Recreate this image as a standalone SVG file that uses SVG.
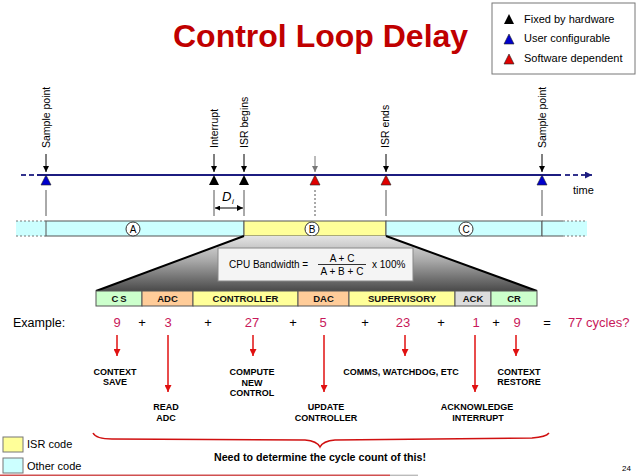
<svg xmlns="http://www.w3.org/2000/svg" width="640" height="476" viewBox="0 0 640 476">
<defs>
<style>
text{font-family:"Liberation Sans",Arial,sans-serif;fill:#000;}
.title{font-size:32px;font-weight:bold;fill:#c00000;}
.lg{font-size:11px;}
.ev{font-size:10.5px;}
.seg{font-size:9.5px;font-weight:bold;fill:#111;text-anchor:middle;}
.num{font-size:13px;fill:#c8185a;text-anchor:middle;}
.numl{font-size:13px;fill:#c8185a;text-anchor:start;}
.op{font-size:13px;text-anchor:middle;}
.ann{font-size:9px;font-weight:bold;text-anchor:middle;}
.vl{stroke:#555;stroke-width:1;fill:none;}
.ra{stroke:#e01010;stroke-width:1.5;fill:none;marker-end:url(#ra);}
.da{stroke:#000;stroke-width:1;fill:none;marker-end:url(#ka);}
.cyan{fill:#ccffff;stroke:#555;stroke-width:1;}
.yel{fill:#ffff99;stroke:#555;stroke-width:1;}
.grn{fill:#ccffcc;stroke:#555;stroke-width:1;}
.org{fill:#ffcc99;stroke:#555;stroke-width:1;}
.gry{fill:#dddddd;stroke:#555;stroke-width:1;}
.circ{fill:#fff;stroke:#333;stroke-width:1;}
.cl{font-size:10px;text-anchor:middle;}
.tk{stroke:#222;stroke-width:0.6;}
</style>
<marker id="ka" viewBox="0 0 10 10" refX="10" refY="5" markerWidth="6" markerHeight="6" orient="auto" markerUnits="userSpaceOnUse">
<path d="M0,0 L10,5 L0,10 z" fill="#000"/>
</marker>
<marker id="ga" viewBox="0 0 10 10" refX="10" refY="5" markerWidth="6" markerHeight="6" orient="auto" markerUnits="userSpaceOnUse">
<path d="M0,0 L10,5 L0,10 z" fill="#777"/>
</marker>
<marker id="ra" viewBox="0 0 10 10" refX="10" refY="5" markerWidth="7" markerHeight="7" orient="auto" markerUnits="userSpaceOnUse">
<path d="M0,0 L10,5 L0,10 z" fill="#e01010"/>
</marker>
<marker id="na" viewBox="0 0 10 10" refX="10" refY="5" markerWidth="9" markerHeight="7" orient="auto" markerUnits="userSpaceOnUse">
<path d="M0,0 L10,5 L0,10 z" fill="#1c1c80"/>
</marker>
<marker id="dl" viewBox="0 0 10 10" refX="0" refY="5" markerWidth="6" markerHeight="5" orient="auto" markerUnits="userSpaceOnUse">
<path d="M10,0 L0,5 L10,10 z" fill="#000"/>
</marker>
<linearGradient id="trap" x1="0" y1="0" x2="0" y2="1">
<stop offset="0" stop-color="#e4e4e4"/>
<stop offset="0.45" stop-color="#a8a8a8"/>
<stop offset="1" stop-color="#4a4a4a"/>
</linearGradient>
</defs>

<g id="title">
<text class="title" x="173" y="47">Control Loop Delay</text>
</g>

<g id="legend">
<rect x="492" y="3" width="143" height="71" fill="#fff" stroke="#777" stroke-width="1"/>
<polygon points="509,14 504,24 514,24" fill="#000"/>
<text class="lg" x="524" y="23">Fixed by hardware</text>
<polygon points="509,34 504,44 514,44" fill="#0000cc" class="tk"/>
<text class="lg" x="524" y="42">User configurable</text>
<polygon points="509,54 504,64 514,64" fill="#e00000" class="tk"/>
<text class="lg" x="524" y="62">Software dependent</text>
</g>

<g id="timeline">
<line x1="21" y1="175" x2="26" y2="175" stroke="#1c1c80" stroke-width="1.8"/>
<line x1="29" y1="175" x2="34" y2="175" stroke="#1c1c80" stroke-width="1.8"/>
<line x1="37" y1="175" x2="561" y2="175" stroke="#1c1c80" stroke-width="1.8"/>
<line x1="565" y1="175" x2="570" y2="175" stroke="#1c1c80" stroke-width="1.8"/>
<line x1="573" y1="175" x2="578" y2="175" stroke="#1c1c80" stroke-width="1.8"/>
<line x1="581" y1="175" x2="592" y2="175" stroke="#1c1c80" stroke-width="1.8" marker-end="url(#na)"/>
<text class="lg" x="573" y="194">time</text>
</g>

<g id="ev-sample1">
<text class="ev" transform="translate(50,148) rotate(-90)">Sample point</text>
<polygon points="46,175 41,185 51,185" fill="#0000cc" class="tk"/>
</g>
<g id="ev-interrupt">
<text class="ev" transform="translate(218,148) rotate(-90)">Interrupt</text>
<polygon points="214,175 209,185 219,185" fill="#000"/>
</g>
<g id="ev-isrbegins">
<text class="ev" transform="translate(248,148) rotate(-90)">ISR begins</text>
<polygon points="244,175 239,185 249,185" fill="#000"/>
</g>
<g id="ev-mid">
<polygon points="315,175 310,185 320,185" fill="#e00000" class="tk"/>
</g>
<g id="ev-isrends">
<text class="ev" transform="translate(389,148) rotate(-90)">ISR ends</text>
<polygon points="386,175 381,185 391,185" fill="#e00000" class="tk"/>
</g>
<g id="ev-sample2">
<text class="ev" transform="translate(546,148) rotate(-90)">Sample point</text>
<polygon points="542,175 537,185 547,185" fill="#0000cc" class="tk"/>
</g>

<g id="di">
<text x="222" y="201" font-family="Liberation Serif,serif" font-style="italic" font-size="13">D</text>
<text x="232" y="204" font-family="Liberation Serif,serif" font-style="italic" font-size="8">i</text>
</g>

<g id="bar">
<rect x="16" y="221" width="30" height="15" fill="#ccffff"/>
<line x1="16" y1="221" x2="46" y2="221" stroke="#777" stroke-dasharray="2,2"/>
<line x1="16" y1="236" x2="46" y2="236" stroke="#777" stroke-dasharray="2,2"/>
<rect class="cyan" x="46" y="221" width="198" height="15"/>
<rect class="yel" x="244" y="221" width="142" height="15"/>
<rect class="cyan" x="386" y="221" width="156" height="15"/>
<rect x="542" y="221" width="45" height="15" fill="#ccffff"/>
<line x1="542" y1="221" x2="542" y2="236" stroke="#555"/>
<line x1="542" y1="221" x2="563" y2="221" stroke="#555"/>
<line x1="542" y1="236" x2="563" y2="236" stroke="#555"/>
<line x1="563" y1="221" x2="587" y2="221" stroke="#777" stroke-dasharray="2,2"/>
<line x1="563" y1="236" x2="587" y2="236" stroke="#777" stroke-dasharray="2,2"/>
<circle class="circ" cx="133" cy="229" r="7"/>
<text class="cl" x="133" y="232.5">A</text>
<circle class="circ" cx="312" cy="229" r="7"/>
<text class="cl" x="312" y="232.5">B</text>
<circle class="circ" cx="466" cy="229" r="7"/>
<text class="cl" x="466" y="232.5">C</text>
</g>

<g id="zoom">
<path d="M244,236 L386,236 L537,291 L96,291 Z" fill="url(#trap)"/>
<line x1="244" y1="236" x2="96" y2="291" stroke="#000" stroke-width="2"/>
<line x1="386" y1="236" x2="537" y2="291" stroke="#000" stroke-width="2"/>
</g>

<g id="cpu-box">
<rect x="218" y="248" width="195" height="33" fill="#f4f4f4" stroke="#888" stroke-width="1"/>
<text x="229" y="268" font-size="10">CPU Bandwidth =</text>
<text x="342" y="261.5" font-size="10" text-anchor="middle">A + C</text>
<line x1="318" y1="264.5" x2="366" y2="264.5" stroke="#000" stroke-width="0.8"/>
<text x="342" y="275" font-size="10" text-anchor="middle">A + B + C</text>
<text x="372" y="268" font-size="10">x 100%</text>
</g>

<g id="segments">
<rect class="grn" x="96" y="291" width="46" height="15"/>
<text class="seg" x="120" y="302" letter-spacing="2">CS</text>
<rect class="org" x="142" y="291" width="51" height="15"/>
<text class="seg" x="167.5" y="302">ADC</text>
<rect class="yel" x="193" y="291" width="105" height="15"/>
<text class="seg" x="245.5" y="302">CONTROLLER</text>
<rect class="org" x="298" y="291" width="51" height="15"/>
<text class="seg" x="323.5" y="302">DAC</text>
<rect class="yel" x="349" y="291" width="106" height="15"/>
<text class="seg" x="402" y="302">SUPERVISORY</text>
<rect class="gry" x="455" y="291" width="36" height="15"/>
<text class="seg" x="473" y="302">ACK</text>
<rect class="grn" x="491" y="291" width="46" height="15"/>
<text class="seg" x="514" y="302">CR</text>
</g>

<g id="example">
<text x="13" y="327" font-size="12.5">Example:</text>
<text class="num" x="117" y="327">9</text>
<text class="op" x="142" y="327">+</text>
<text class="num" x="168" y="327">3</text>
<text class="op" x="208" y="327">+</text>
<text class="num" x="252" y="327">27</text>
<text class="op" x="293" y="327">+</text>
<text class="num" x="323" y="327">5</text>
<text class="op" x="365" y="327">+</text>
<text class="num" x="403" y="327">23</text>
<text class="op" x="441" y="327">+</text>
<text class="num" x="476" y="327">1</text>
<text class="op" x="496" y="327">+</text>
<text class="num" x="517" y="327">9</text>
<text class="op" x="547" y="327">=</text>
<text class="numl" x="568" y="327">77 cycles?</text>
</g>

<g id="annotations">
<text class="ann" x="115" y="375">CONTEXT</text>
<text class="ann" x="115" y="385">SAVE</text>
<text class="ann" x="166" y="410">READ</text>
<text class="ann" x="166" y="421">ADC</text>
<text class="ann" x="252" y="375">COMPUTE</text>
<text class="ann" x="252" y="385.5">NEW</text>
<text class="ann" x="252" y="396">CONTROL</text>
<text class="ann" x="326" y="410">UPDATE</text>
<text class="ann" x="326" y="421">CONTROLLER</text>
<text class="ann" x="401" y="375">COMMS, WATCHDOG, ETC</text>
<text class="ann" x="477" y="410">ACKNOWLEDGE</text>
<text class="ann" x="478" y="421">INTERRUPT</text>
<text class="ann" x="519" y="375">CONTEXT</text>
<text class="ann" x="519" y="385">RESTORE</text>
</g>

<g id="connectors">
<line class="da" x1="46" y1="154" x2="46" y2="172"/>
<line class="da" x1="214" y1="154" x2="214" y2="172"/>
<line class="da" x1="244" y1="154" x2="244" y2="172"/>
<line x1="315" y1="156" x2="315" y2="172" stroke="#777" stroke-width="1" marker-end="url(#ga)"/>
<line class="da" x1="386" y1="154" x2="386" y2="172"/>
<line class="da" x1="542" y1="154" x2="542" y2="172"/>
<line class="vl" x1="46" y1="190" x2="46" y2="216"/>
<line class="vl" x1="214" y1="190" x2="214" y2="216"/>
<line class="vl" x1="244" y1="190" x2="244" y2="216"/>
<line class="vl" x1="315" y1="190" x2="315" y2="216" stroke-dasharray="2,2"/>
<line class="vl" x1="386" y1="190" x2="386" y2="216"/>
<line class="vl" x1="542" y1="190" x2="542" y2="216"/>
<line x1="215" y1="208" x2="243" y2="208" stroke="#000" stroke-width="1" marker-start="url(#dl)" marker-end="url(#ka)"/>
<line class="ra" x1="117" y1="335" x2="117" y2="356"/>
<line class="ra" x1="168" y1="335" x2="168" y2="392"/>
<line class="ra" x1="253" y1="335" x2="253" y2="356"/>
<line class="ra" x1="324" y1="335" x2="324" y2="392"/>
<line class="ra" x1="405" y1="335" x2="405" y2="356"/>
<line class="ra" x1="475" y1="335" x2="475" y2="392"/>
<line class="ra" x1="516" y1="335" x2="516" y2="356"/>
</g>

<g id="brace">
<path d="M93,433 Q96,439 112,439 L305,440 Q317,441 320,447 Q323,441 335,440 L532,438 Q546,437 549,433" fill="none" stroke="#d01010" stroke-width="1.5"/>
<text x="320" y="461" font-size="11" font-weight="bold" text-anchor="middle" textLength="212" lengthAdjust="spacingAndGlyphs">Need to determine the cycle count of this!</text>
</g>

<g id="code-legend">
<rect x="3" y="437" width="20" height="15" fill="#ffff99" stroke="#777"/>
<text x="27" y="448" font-size="11">ISR code</text>
<rect x="3" y="458" width="20" height="15" fill="#ccffff" stroke="#777"/>
<text x="27" y="470" font-size="11">Other code</text>
</g>

<g id="page">
<text x="622" y="471" font-size="8">24</text>
<line x1="0" y1="475.3" x2="390" y2="475.3" stroke="#d05050" stroke-width="1.4"/>
<line x1="390" y1="475.3" x2="418" y2="475.3" stroke="#bbb" stroke-width="1.4"/>
</g>
</svg>
